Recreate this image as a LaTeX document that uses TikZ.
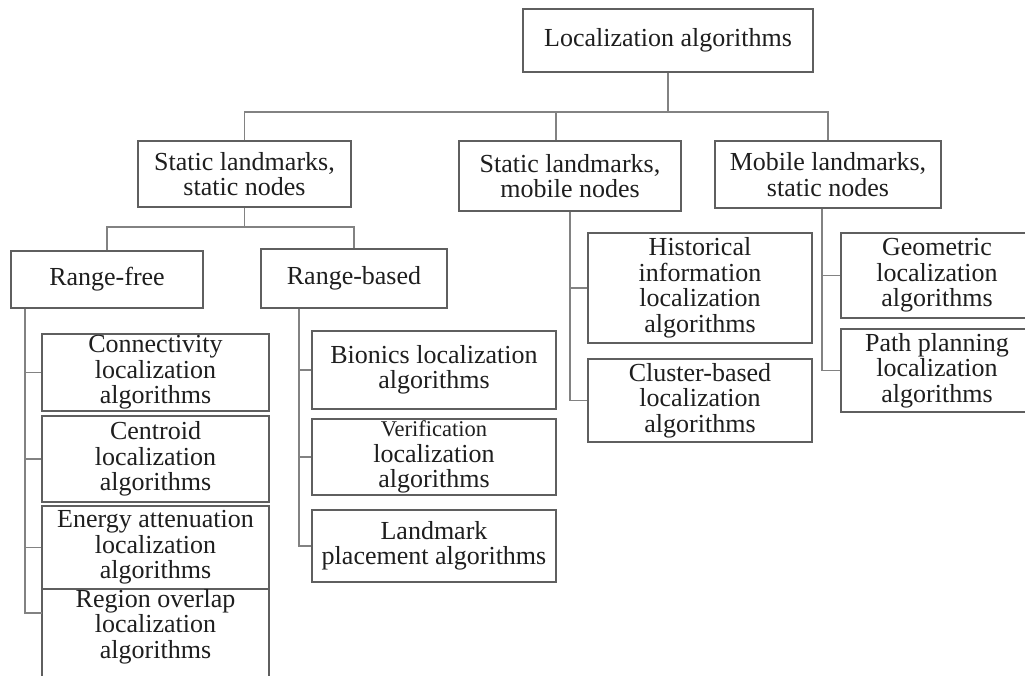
\documentclass[tikz,border=0pt]{standalone}
\usepackage{fontspec}
\setmainfont{Liberation Serif}
\definecolor{boxgray}{RGB}{95,95,95}
\definecolor{linkgray}{RGB}{130,130,130}
\definecolor{ink}{RGB}{30,30,30}
\begin{document}
\begin{tikzpicture}[x=1pt,y=-1pt,
  box/.style={draw=boxgray, line width=1.3pt, inner sep=0pt, align=center,
    text=ink, font=\fontsize{26}{25.5}\selectfont},
  link/.style={draw=linkgray, line width=1.3pt}]
\fill[white] (0,0) rectangle (1025,675);
\useasboundingbox (0,0) rectangle (1025,675);
\clip (0,0) rectangle (1025,675);

% root and first level
\node[box, minimum width=290pt, minimum height=63pt] (root) at (668,40.5) {Localization algorithms};
\node[box, minimum width=213pt, minimum height=66pt] (ssn) at (244.5,174) {Static landmarks,\\ static nodes};
\node[box, minimum width=222pt, minimum height=70pt] (smn) at (570,176) {Static landmarks,\\ mobile nodes};
\node[box, minimum width=226pt, minimum height=67pt] (mln) at (828,174.5) {Mobile landmarks,\\ static nodes};

% range split
\node[box, minimum width=192pt, minimum height=57pt] (rfree) at (107,279.5) {Range-free};
\node[box, minimum width=186pt, minimum height=59pt] (rbased) at (354,278.5) {Range-based};

% range-free methods
\node[box, minimum width=227pt, minimum height=77pt] (conn) at (155.5,372.5) {Connectivity\\ localization\\ algorithms};
\node[box, minimum width=227pt, minimum height=86pt] (cent) at (155.5,459) {Centroid\\ localization\\ algorithms};
\node[box, minimum width=227pt, minimum height=83pt] (energy) at (155.5,547.5) {Energy attenuation\\ localization\\ algorithms};
\node[box, minimum width=227pt, minimum height=87pt] (region) at (155.5,636.5) {Region overlap\\ localization\\ algorithms\\ \mbox{}};

% range-based methods
\node[box, minimum width=244pt, minimum height=78pt] (bion) at (434,370) {Bionics localization\\ algorithms};
\node[box, minimum width=244pt, minimum height=76pt] (verif) at (434,457) {{\fontsize{22.5}{25.5}\selectfont Verification}\\ localization\\ algorithms};
\node[box, minimum width=244pt, minimum height=72pt] (land) at (434,546) {Landmark\\ placement algorithms};

% mobile-node methods
\node[box, minimum width=224pt, minimum height=110pt] (hist) at (700,288) {Historical\\ information\\ localization\\ algorithms};
\node[box, minimum width=224pt, minimum height=83pt] (clust) at (700,400.5) {Cluster-based\\ localization\\ algorithms};

% mobile-landmark methods
\node[box, minimum width=192pt, minimum height=85pt] (geo) at (937,275.5) {Geometric\\ localization\\ algorithms};
\node[box, minimum width=192pt, minimum height=83pt] (path) at (937,370.5) {Path planning\\ localization\\ algorithms};

% bus levels and spines
\coordinate (bus) at (0,112);
\coordinate (bus2) at (0,227);
\coordinate (smdrop) at (556,112);
\coordinate (rfx) at (25,0);
\coordinate (rbx) at (299,0);
\coordinate (smx) at (570,0);
\coordinate (mlx) at (822,0);
\coordinate (regtap) at (42,613);

% top-level connectors
\draw[link] (root.south) -- (root.south |- bus);
\draw[link] (ssn.north) |- (mln.north |- bus) -- (mln.north);
\draw[link] (smdrop) -- (smdrop |- smn.north);

% range split connectors
\draw[link] (ssn.south) -- (ssn.south |- bus2);
\draw[link] (rfree.north) |- (rbased.north |- bus2) -- (rbased.north);

% range-free spine
\draw[link] (rfree.south -| rfx) |- (regtap);
\draw[link] (conn.west -| rfx) -- (conn.west);
\draw[link] (cent.west -| rfx) -- (cent.west);
\draw[link] (energy.west -| rfx) -- (energy.west);

% range-based spine
\draw[link] (rbased.south -| rbx) |- (land.west);
\draw[link] (bion.west -| rbx) -- (bion.west);
\draw[link] (verif.west -| rbx) -- (verif.west);

% mobile-node spine
\draw[link] (smn.south -| smx) |- (clust.west);
\draw[link] (hist.west -| smx) -- (hist.west);

% mobile-landmark spine
\draw[link] (mln.south -| mlx) |- (path.west);
\draw[link] (geo.west -| mlx) -- (geo.west);
\end{tikzpicture}
\end{document}
